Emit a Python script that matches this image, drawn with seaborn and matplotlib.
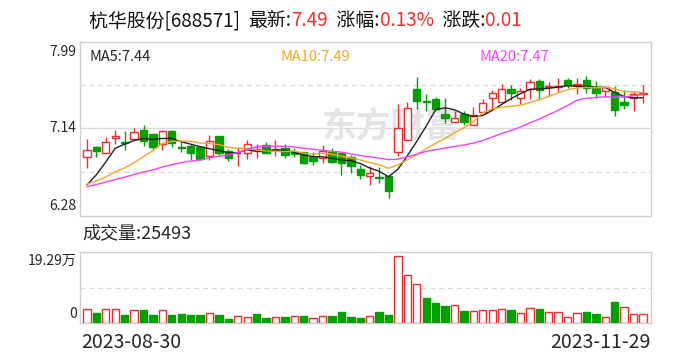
import numpy as np
import pandas as pd
import matplotlib
matplotlib.use('Agg')
import matplotlib.pyplot as plt
import seaborn as sns

# 日K数据 (元), 2023-08-30 ~ 2023-11-29, 共 60 个交易日
open_ = [6.86, 6.96, 6.90, 7.05, 7.01, 7.04, 7.13, 7.09, 6.99, 7.12,
         6.96, 6.97, 6.96, 6.87, 7.07, 6.92, 6.90, 6.90, 6.93, 6.98,
         6.93, 6.95, 6.91, 6.91, 6.86, 6.85, 6.91, 6.90, 6.86, 6.74,
         6.67, 6.66, 6.67, 6.91, 7.03, 7.53, 7.41, 7.43, 7.28, 7.20,
         7.28, 7.17, 7.30, 7.44, 7.40, 7.53, 7.44, 7.53, 7.61, 7.55,
         7.55, 7.62, 7.57, 7.62, 7.54, 7.51, 7.50, 7.40, 7.44, 7.48]
high = [7.04, 6.97, 7.06, 7.13, 7.12, 7.14, 7.17, 7.09, 7.13, 7.13,
        7.03, 6.99, 6.97, 7.08, 7.07, 6.94, 6.96, 7.03, 6.99, 7.01,
        7.03, 6.99, 6.95, 6.91, 6.91, 6.98, 6.95, 6.90, 6.88, 6.78,
        6.77, 6.76, 6.67, 7.38, 7.40, 7.65, 7.48, 7.45, 7.44, 7.31,
        7.31, 7.35, 7.43, 7.52, 7.58, 7.57, 7.54, 7.63, 7.63, 7.60,
        7.64, 7.64, 7.64, 7.66, 7.61, 7.55, 7.56, 7.52, 7.51, 7.57]
low = [6.75, 6.86, 6.90, 6.99, 6.93, 7.04, 6.97, 6.93, 6.93, 6.96,
       6.91, 6.83, 6.83, 6.83, 6.88, 6.82, 6.77, 6.84, 6.85, 6.90,
       6.87, 6.85, 6.86, 6.79, 6.78, 6.80, 6.80, 6.68, 6.70, 6.64,
       6.58, 6.60, 6.46, 6.87, 7.03, 7.33, 7.31, 7.33, 7.19, 7.20,
       7.17, 7.17, 7.30, 7.33, 7.40, 7.42, 7.38, 7.43, 7.42, 7.46,
       7.50, 7.54, 7.48, 7.49, 7.44, 7.45, 7.26, 7.33, 7.31, 7.39]
close = [6.93, 6.92, 7.01, 7.07, 7.00, 7.11, 7.02, 6.96, 7.12, 7.00,
         6.95, 6.90, 6.84, 7.02, 6.90, 6.85, 6.90, 6.99, 6.93, 6.90,
         6.93, 6.88, 6.89, 6.80, 6.82, 6.92, 6.81, 6.80, 6.77, 6.68,
         6.70, 6.65, 6.53, 7.14, 7.34, 7.41, 7.40, 7.33, 7.24, 7.24,
         7.20, 7.27, 7.39, 7.49, 7.53, 7.49, 7.51, 7.60, 7.52, 7.55,
         7.56, 7.57, 7.57, 7.54, 7.49, 7.55, 7.32, 7.37, 7.48, 7.49]
# 成交量 (手)
volume = [38600, 27800, 38600, 38600, 22400, 35900, 35900, 22400, 36800, 22400,
          25100, 22400, 22400, 26900, 22400, 11700, 20600, 16200, 24200, 14400,
          16200, 17100, 20600, 19700, 13500, 20600, 19700, 30500, 17100, 14400,
          19700, 30500, 22400, 181400, 130000, 106000, 68200, 54800, 46700, 49400,
          33200, 33200, 35900, 35900, 38600, 35900, 26900, 40400, 38600, 29600,
          29600, 16200, 26900, 30500, 25100, 16200, 57500, 43100, 24200, 25493]
# 区间之前的 19 个收盘价, 只用来算均线
pre_close = [6.50, 6.52, 6.55, 6.58, 6.56, 6.53, 6.55, 6.54, 6.55, 6.54,
             6.62, 6.60, 6.58, 6.61, 6.60, 6.42, 6.38, 6.40, 6.80]

date_labels = ['2023-08-30', '2023-11-29']
price_ticks = [6.28, 7.14, 7.99]
vol_top = 192900

sns.set_theme(style='white')
plt.rcParams['font.family'] = ['Noto Sans CJK SC', 'DejaVu Sans']
plt.rcParams['axes.unicode_minus'] = False

RED = '#f02c2c'
GREEN = '#00a000'
GRID = '#d9d9d9'
EDGE = '#cfcfcf'

df = pd.DataFrame({'open': open_, 'high': high, 'low': low, 'close': close, 'vol': volume})
df['x'] = np.arange(len(df))
allc = pd.Series(pre_close + close)
for n in (5, 10, 20):
    df[f'ma{n}'] = allc.rolling(n).mean().iloc[len(pre_close):].to_numpy()
df['up'] = df['close'] >= df['open']
df['vol_up'] = df['close'] >= np.array([pre_close[-1]] + close[:-1])

fig = plt.figure(figsize=(6.88, 3.6), dpi=100)
ax = fig.add_axes([80 / 688, 144 / 360, 571 / 688, 174 / 360])
axv = fig.add_axes([80 / 688, 36.7 / 360, 571 / 688, 71.6 / 360])

# K线
w = 0.78
for _, r in df.iterrows():
    c = RED if r.up else GREEN
    lo_b, hi_b = min(r.open, r.close), max(r.open, r.close)
    ax.vlines(r.x, r.low, lo_b, color=c, lw=1.0, zorder=2)
    ax.vlines(r.x, hi_b, r.high, color=c, lw=1.0, zorder=2)
    ax.bar(r.x, max(hi_b - lo_b, 0.004), bottom=lo_b, width=w,
           facecolor='white' if r.up else GREEN, edgecolor=c, lw=1.0, zorder=3)

# 均线
ma_colors = {'ma5': '#222222', 'ma10': '#f5a623', 'ma20': '#ff3cff'}
for col, c in ma_colors.items():
    sns.lineplot(data=df, x='x', y=col, ax=ax, color=c, lw=1.0, zorder=4)

ax.axhline(price_ticks[1], color=GRID, lw=1, zorder=0)
for p in ((price_ticks[2] + price_ticks[1]) / 2, (price_ticks[1] + price_ticks[0]) / 2):
    ax.axhline(p, color=GRID, lw=0.9, ls=(0, (4, 3)), zorder=0)
ax.set_xlim(-0.74, len(df) - 0.15)
ax.set_ylim(price_ticks[0], price_ticks[2])

# 成交量
vc = np.where(df['vol_up'], RED, GREEN)
axv.bar(df['x'], df['vol'] / 1e4, width=w,
        facecolor=np.where(df['vol_up'], 'white', GREEN), edgecolor=vc, lw=1.0, zorder=3)
axv.axhline(vol_top / 2e4, color=GRID, lw=0.9, ls=(0, (4, 3)), zorder=0)
axv.set_xlim(-0.74, len(df) - 0.15)
axv.set_ylim(0, vol_top / 1e4)

for a in (ax, axv):
    a.set_xticks([])
    a.set_yticks([])
    a.set_xlabel('')
    a.set_ylabel('')
    for s in a.spines.values():
        s.set_color(EDGE)
        s.set_linewidth(1)

# 水印
ax.text(0.545, 0.515, '东方财富', transform=ax.transAxes, fontsize=25, fontweight='bold',
        color='#e4e4e6', ha='center', va='center', zorder=1)

# 坐标文字
ty = ax.get_yaxis_transform()
ax.text(-0.006, price_ticks[2] - 0.03, f'{price_ticks[2]:.2f}', transform=ty, ha='right', va='top', fontsize=10)
ax.text(-0.006, price_ticks[1], f'{price_ticks[1]:.2f}', transform=ty, ha='right', va='center', fontsize=10)
ax.text(-0.006, price_ticks[0] + 0.03, f'{price_ticks[0]:.2f}', transform=ty, ha='right', va='bottom', fontsize=10)
axv.text(-0.006, 0.97, f'{vol_top / 1e4:.2f}万', transform=axv.transAxes, ha='right', va='top', fontsize=10)
axv.text(-0.006, 0.03, '0', transform=axv.transAxes, ha='right', va='bottom', fontsize=10)

fig.text(81 / 688, 0.05, date_labels[0], ha='left', va='center', fontsize=14)
fig.text(651 / 688, 0.05, date_labels[1], ha='right', va='center', fontsize=14)

# 均线数值
ax.text(0.016, 0.914, f"MA5:{df['ma5'].iloc[-1]:.2f}", transform=ax.transAxes, color='#222222', fontsize=10.5, va='center')
ax.text(0.352, 0.914, f"MA10:{df['ma10'].iloc[-1]:.2f}", transform=ax.transAxes, color='#f5a623', fontsize=10.5, va='center')
ax.text(0.70, 0.914, f"MA20:{df['ma20'].iloc[-1]:.2f}", transform=ax.transAxes, color='#ff3cff', fontsize=10.5, va='center')

fig.text(82 / 688, 0.353, f"成交量:{volume[-1]}", fontsize=13, va='center')

# 标题行
last, prev_c = close[-1], close[-2]
parts = [('杭华股份[688571]  ', '#111111'), ('最新:', '#111111'), (f'{last:.2f}', RED),
         ('  涨幅:', '#111111'), (f'{(last - prev_c) / prev_c * 100:.2f}%', RED),
         ('  涨跌:', '#111111'), (f'{last - prev_c:.2f}', RED)]
rend = fig.canvas.get_renderer()
x = 89 / 688
for s, c in parts:
    t = fig.text(x, 0.942, s, color=c, fontsize=13.6, va='center')
    x += t.get_window_extent(rend).width / fig.bbox.width

fig.savefig('out.png', dpi=100)
